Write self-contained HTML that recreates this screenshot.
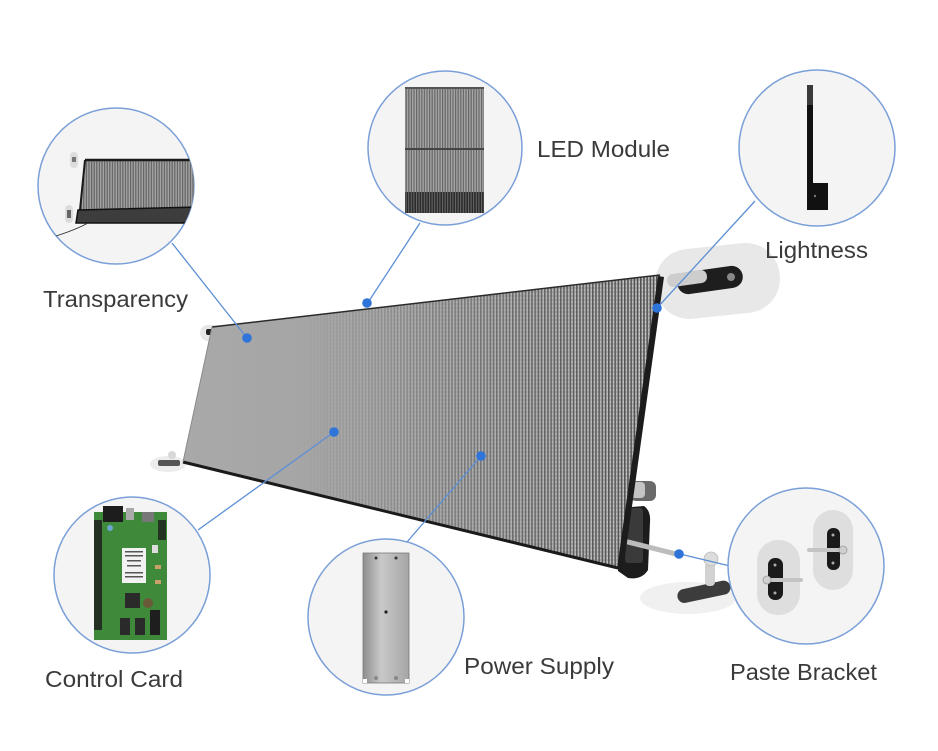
<!DOCTYPE html>
<html><head><meta charset="utf-8"><style>
html,body{margin:0;padding:0;background:#fff;}
svg{display:block;}
text{font-family:"Liberation Sans",sans-serif;fill:#3a3a3a;}
</style></head><body>
<svg width="938" height="751" viewBox="0 0 938 751" xmlns="http://www.w3.org/2000/svg">
<defs>
  <pattern id="stripes" width="3.2" height="4" patternUnits="userSpaceOnUse">
    <rect width="3.2" height="4" fill="#b4b4b4"/>
    <rect x="0" width="1.6" height="4" fill="#4a4a4a"/>
    <rect x="1.6" y="1.5" width="1.6" height="1" fill="#e0e0e0"/>
  </pattern>
  <pattern id="stripesS" width="2.6" height="3" patternUnits="userSpaceOnUse">
    <rect width="2.6" height="3" fill="#a8a8a8"/>
    <rect x="0" width="1.2" height="3" fill="#5a5a5a"/>
  </pattern>
  <pattern id="stripesD" width="2.6" height="3" patternUnits="userSpaceOnUse">
    <rect width="2.6" height="3" fill="#2a2a2a"/>
    <rect x="0" width="1" height="3" fill="#6a6a6a"/>
  </pattern>
  <linearGradient id="panelBase" x1="183" y1="0" x2="660" y2="0" gradientUnits="userSpaceOnUse">
    <stop offset="0" stop-color="#a9a9a9"/>
    <stop offset="0.45" stop-color="#a2a2a2"/>
    <stop offset="1" stop-color="#8e8e8e"/>
  </linearGradient>
  <linearGradient id="stripeMaskG" x1="300" y1="0" x2="640" y2="0" gradientUnits="userSpaceOnUse">
    <stop offset="0" stop-color="#000"/>
    <stop offset="0.5" stop-color="#808080"/>
    <stop offset="1" stop-color="#fff"/>
  </linearGradient>
  <mask id="stripeMask" maskUnits="userSpaceOnUse" x="0" y="0" width="938" height="751">
    <rect x="0" y="0" width="938" height="751" fill="url(#stripeMaskG)"/>
  </mask>
  <linearGradient id="metal" x1="0" y1="0" x2="1" y2="0">
    <stop offset="0" stop-color="#8e8e8e"/>
    <stop offset="0.4" stop-color="#c9c9c9"/>
    <stop offset="1" stop-color="#a5a5a5"/>
  </linearGradient>
  <clipPath id="c1"><circle cx="116" cy="186" r="78"/></clipPath>
  <clipPath id="c2"><circle cx="445" cy="148" r="77"/></clipPath>
  <clipPath id="c3"><circle cx="817" cy="148" r="78"/></clipPath>
  <clipPath id="c4"><circle cx="132" cy="575" r="78"/></clipPath>
  <clipPath id="c5"><circle cx="386" cy="617" r="78"/></clipPath>
  <clipPath id="c6"><circle cx="806" cy="566" r="78"/></clipPath>
</defs>

<rect width="938" height="751" fill="#fff"/>

<!-- mounts behind panel -->
<rect x="655" y="246" width="125" height="70" rx="34" fill="#e8e8e8" transform="rotate(-6 717 281)"/>
<rect x="677" y="269" width="66" height="22" rx="11" fill="#1e1e1e" transform="rotate(-8 710 280)"/>
<circle cx="731" cy="277" r="4" fill="#888"/>
<rect x="667" y="272" width="40" height="13" rx="6" fill="#cdcdcd" transform="rotate(-8 687 278)"/>
<rect x="200" y="325" width="26" height="16" rx="8" fill="#e6e6e6"/>
<rect x="206" y="329" width="12" height="6" rx="2" fill="#222"/>
<ellipse cx="168" cy="464" rx="18" ry="8" fill="#ececec"/>
<rect x="158" y="460" width="22" height="6" rx="2" fill="#555"/>
<circle cx="172" cy="455" r="4" fill="#d8d8d8"/>

<!-- bottom-right bracket -->
<ellipse cx="688" cy="598" rx="48" ry="16" fill="#f0f0f0"/>
<rect x="677" y="585" width="54" height="14" rx="7" fill="#3c3c3c" transform="rotate(-12 703 592)"/>
<rect x="705" y="562" width="10" height="24" rx="4" fill="#d2d2d2"/>
<circle cx="711" cy="559" r="7" fill="#dcdcdc" stroke="#bbb" stroke-width="0.8"/>

<!-- right clamp -->
<rect x="630" y="481" width="26" height="20" rx="6" fill="#6a6a6a"/>
<rect x="631" y="482" width="14" height="16" rx="4" fill="#c4c4c4"/>
<path d="M620 508 L644 506 Q651 511 650 522 L648 570 Q642 580 628 578 L618 571 Z" fill="#1c1c1c"/>
<rect x="625" y="508" width="18" height="55" rx="3" fill="#3a3a3a"/>
<rect x="622" y="538" width="60" height="5" rx="2.5" fill="#bcbcbc" transform="rotate(14 622 540)"/>

<!-- panel -->
<polygon points="212,327 660,275 618,568 183,462" fill="url(#panelBase)"/>
<polygon points="212,327 660,275 618,568 183,462" fill="url(#stripes)" mask="url(#stripeMask)" opacity="0.9"/>
<!-- frame -->
<polyline points="183,462 618,568" fill="none" stroke="#1a1a1a" stroke-width="3"/>
<polyline points="212,327 660,275" fill="none" stroke="#2a2a2a" stroke-width="1.5"/>
<polygon points="658,276 664,277 623,571 617,569" fill="#1c1c1c"/>
<line x1="183" y1="462" x2="212" y2="327" stroke="#8a8a8a" stroke-width="1"/>

<!-- connector lines -->
<g stroke="#5c8fd6" stroke-width="1.3" fill="none">
  <line x1="172" y1="243" x2="247" y2="338"/>
  <line x1="420" y1="223" x2="367" y2="304"/>
  <line x1="755" y1="201" x2="657" y2="308"/>
  <line x1="198" y1="530" x2="334" y2="432"/>
  <line x1="407" y1="542" x2="481" y2="456"/>
  <line x1="680" y1="554" x2="730" y2="566"/>
</g>
<g fill="#2f74d8">
  <circle cx="247" cy="338" r="4.8"/>
  <circle cx="367" cy="303" r="4.8"/>
  <circle cx="657" cy="308" r="4.8"/>
  <circle cx="334" cy="432" r="4.8"/>
  <circle cx="481" cy="456" r="4.8"/>
  <circle cx="679" cy="554" r="4.8"/>
</g>

<!-- circles -->
<g fill="#f4f4f4" stroke="#7a9fd8" stroke-width="1.5">
  <circle cx="116" cy="186" r="78"/>
  <circle cx="445" cy="148" r="77"/>
  <circle cx="817" cy="148" r="78"/>
  <circle cx="132" cy="575" r="78"/>
  <circle cx="386" cy="617" r="78"/>
  <circle cx="806" cy="566" r="78"/>
</g>

<!-- Transparency contents -->
<g clip-path="url(#c1)">
  <polygon points="85,160 200,160 200,210 80,210" fill="#8e8e8e"/>
  <polygon points="85,160 200,160 200,210 80,210" fill="url(#stripesS)" opacity="0.8"/>
  <line x1="85" y1="160" x2="200" y2="160" stroke="#1a1a1a" stroke-width="2.5"/>
  <line x1="85" y1="160" x2="80" y2="210" stroke="#1a1a1a" stroke-width="2"/>
  <polygon points="78,210 200,207 200,223 76,223" fill="#3d3d3d" stroke="#111" stroke-width="1.5"/>
  <rect x="70" y="152" width="8" height="16" rx="4" fill="#dcdcdc"/>
  <rect x="72" y="157" width="4" height="5" fill="#777"/>
  <rect x="65" y="205" width="8" height="18" rx="4" fill="#dcdcdc"/>
  <rect x="67" y="210" width="4" height="8" fill="#666"/>
  <path d="M88 223 Q72 232 36 242" stroke="#333" stroke-width="1" fill="none"/>
</g>

<!-- LED Module contents -->
<g clip-path="url(#c2)">
  <rect x="405" y="87" width="79" height="105" fill="#9a9a9a"/>
  <rect x="405" y="87" width="79" height="105" fill="url(#stripesS)" opacity="0.8"/>
  <rect x="405" y="87" width="79" height="2" fill="#555"/>
  <rect x="405" y="148" width="79" height="2" fill="#444"/>
  <rect x="405" y="192" width="79" height="21" fill="url(#stripesD)"/>
</g>

<!-- Lightness contents -->
<g clip-path="url(#c3)">
  <rect x="807" y="85" width="6" height="125" fill="#111"/>
  <rect x="807" y="85" width="6" height="20" fill="#3a3a3a"/>
  <rect x="808" y="183" width="20" height="27" fill="#111"/>
  <circle cx="815" cy="196" r="1.2" fill="#777"/>
</g>

<!-- Control card contents -->
<g clip-path="url(#c4)">
  <rect x="94" y="512" width="73" height="128" fill="#3f8a3a"/>
  <rect x="103" y="506" width="20" height="16" fill="#1d1d1d"/>
  <rect x="126" y="508" width="8" height="12" fill="#aaa"/>
  <rect x="142" y="512" width="12" height="10" fill="#777"/>
  <rect x="94" y="520" width="8" height="110" fill="#1e1e1e" opacity="0.85"/>
  <rect x="158" y="520" width="8" height="20" fill="#1e1e1e" opacity="0.8"/>
  <rect x="152" y="545" width="6" height="8" fill="#ddd"/>
  <rect x="122" y="548" width="24" height="35" fill="#f2f2f2"/>
  <g fill="#555">
    <rect x="125" y="551" width="18" height="1.5"/>
    <rect x="125" y="555" width="18" height="1.5"/>
    <rect x="127" y="560" width="14" height="1.5"/>
    <rect x="127" y="565" width="14" height="1.5"/>
    <rect x="125" y="572" width="18" height="1.5"/>
    <rect x="125" y="576" width="18" height="1.5"/>
  </g>
  <rect x="125" y="593" width="15" height="15" fill="#2a2a2a"/>
  <circle cx="148" cy="603" r="5" fill="#6b5a3a"/>
  <rect x="120" y="618" width="10" height="17" fill="#2a2a2a"/>
  <rect x="135" y="618" width="10" height="17" fill="#2a2a2a"/>
  <rect x="150" y="610" width="10" height="25" fill="#1e1e1e"/>
  <rect x="155" y="565" width="6" height="4" fill="#c9a26a"/>
  <rect x="155" y="580" width="6" height="4" fill="#c9a26a"/>
  <circle cx="110" cy="528" r="3" fill="#6aa8d0"/>
</g>

<!-- Power supply contents -->
<g clip-path="url(#c5)">
  <rect x="363" y="553" width="46" height="130" fill="url(#metal)"/>
  <rect x="363" y="553" width="46" height="130" fill="none" stroke="#777" stroke-width="0.8"/>
  <circle cx="376" cy="558" r="1.5" fill="#333"/>
  <circle cx="396" cy="558" r="1.5" fill="#333"/>
  <circle cx="386" cy="612" r="1.6" fill="#222"/>
  <circle cx="376" cy="678" r="2" fill="#888"/>
  <circle cx="396" cy="678" r="2" fill="#888"/>
  <rect x="363" y="679" width="4" height="4" fill="#fff"/>
  <rect x="405" y="679" width="4" height="4" fill="#fff"/>
</g>

<!-- Paste bracket contents -->
<g clip-path="url(#c6)">
  <rect x="757" y="540" width="43" height="75" rx="21" fill="#dedede"/>
  <rect x="768" y="558" width="15" height="42" rx="7" fill="#1a1a1a"/>
  <circle cx="775" cy="565" r="1.5" fill="#aaa"/>
  <circle cx="775" cy="593" r="1.5" fill="#aaa"/>
  <rect x="763" y="578" width="40" height="4" rx="2" fill="#c4c4c4"/>
  <circle cx="767" cy="580" r="4" fill="#cfcfcf" stroke="#999" stroke-width="0.8"/>
  <rect x="813" y="510" width="40" height="80" rx="20" fill="#dedede"/>
  <rect x="827" y="528" width="13" height="42" rx="6" fill="#1a1a1a"/>
  <circle cx="833" cy="535" r="1.5" fill="#aaa"/>
  <circle cx="833" cy="563" r="1.5" fill="#aaa"/>
  <rect x="807" y="548" width="40" height="4" rx="2" fill="#c4c4c4"/>
  <circle cx="843" cy="550" r="4" fill="#cfcfcf" stroke="#999" stroke-width="0.8"/>
</g>

<!-- labels -->
<text x="43" y="307" font-size="23" textLength="145" lengthAdjust="spacingAndGlyphs">Transparency</text>
<text x="537" y="157" font-size="23" textLength="133" lengthAdjust="spacingAndGlyphs">LED Module</text>
<text x="765" y="258" font-size="23" textLength="103" lengthAdjust="spacingAndGlyphs">Lightness</text>
<text x="45" y="687" font-size="23" textLength="138" lengthAdjust="spacingAndGlyphs">Control Card</text>
<text x="464" y="674" font-size="23" textLength="150" lengthAdjust="spacingAndGlyphs">Power Supply</text>
<text x="730" y="680" font-size="23" textLength="147" lengthAdjust="spacingAndGlyphs">Paste Bracket</text>
</svg>
</body></html>
